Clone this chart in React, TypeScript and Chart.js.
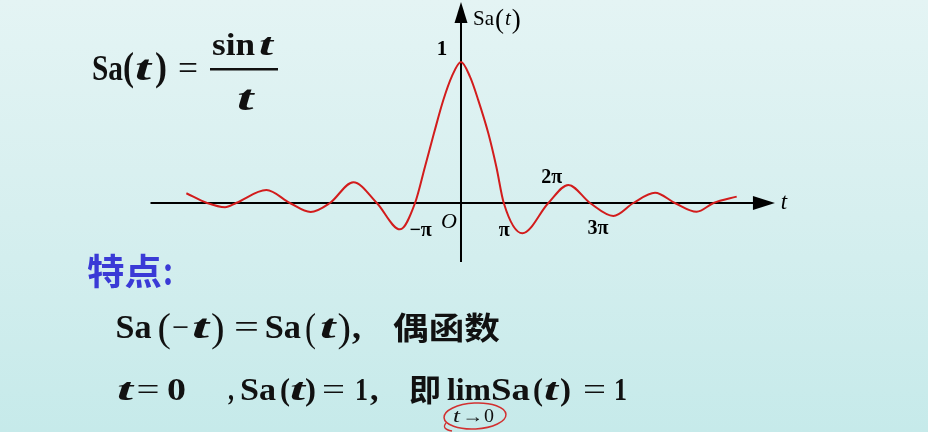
import React, { useEffect, useRef } from "react";
import { Chart, registerables } from "chart.js";

Chart.register(...registerables);

// ---- data ----
const T_VALUES = [
  -19.9, -18.4, -17.1, -16.3, -14.1, -12.4, -10.9, -9.5, -7.8, -6.1, -4.42, -3.33,
  -2.61, -1.96, -1.28, -0.67, 0, 0.65, 1.25, 1.98, 2.56, 3.1, 4.45, 6.33, 7.78, 9.35,
  11.04, 12.49, 14.06, 15.5, 17.08, 18.3, 19.98,
];
const SA_VALUES = [
  0.069, 0.0, -0.03, 0.0, 0.092, 0.0, -0.064, 0.0, 0.147, 0.0, -0.187, 0.0,
  0.257, 0.494, 0.73, 0.896, 1.0, 0.896, 0.73, 0.494, 0.257, 0.0, -0.215, 0.0, 0.128, 0.0,
  -0.092, 0.0, 0.073, 0.0, -0.062, 0.0, 0.045,
];
const PI = Math.PI;
const TICK_VALUES = [-PI, PI, 2 * PI, 3 * PI];
const TICK_LABELS = ["−π", "π", "2π", "3π"];
const PEAK_LABEL = "1";
const ORIGIN_LABEL = "O";
const X_AXIS_LABEL = "t";

// ---- layout / style ----
const W = 928;
const H = 432;
const X_MIN = -33.406;
const X_MAX = 33.841;
const Y_MIN = -1.6241;
const Y_MAX = 1.4397;
const TICK_OFFSETS = [
  [3, 28],
  [0, 28],
  [4, -25],
  [7, 26],
];
const SERIF = "'Liberation Serif', 'Times New Roman', serif";
const CJK = "'Noto Sans CJK SC', sans-serif";

const axesPlugin = {
  id: "mathAxes",
  beforeDatasetsDraw(chart: any) {
    const { ctx } = chart;
    const xs = chart.scales.x;
    const ys = chart.scales.y;
    const x0 = xs.getPixelForValue(0);
    const y0 = ys.getPixelForValue(0);
    const hStart = xs.getPixelForValue(-22.5);
    const hTip = xs.getPixelForValue(22.75);
    const vBottom = ys.getPixelForValue(-0.418);
    const vTip = ys.getPixelForValue(1.4255);
    ctx.save();
    ctx.strokeStyle = "#000";
    ctx.fillStyle = "#000";
    ctx.lineWidth = 2;
    ctx.beginPath();
    ctx.moveTo(hStart, y0);
    ctx.lineTo(hTip - 18, y0);
    ctx.moveTo(x0, vBottom);
    ctx.lineTo(x0, vTip + 18);
    ctx.stroke();
    // arrow heads
    ctx.beginPath();
    ctx.moveTo(hTip, y0);
    ctx.lineTo(hTip - 22, y0 - 7);
    ctx.lineTo(hTip - 22, y0 + 7);
    ctx.closePath();
    ctx.fill();
    ctx.beginPath();
    ctx.moveTo(x0, vTip);
    ctx.lineTo(x0 - 6.5, vTip + 21);
    ctx.lineTo(x0 + 6.5, vTip + 21);
    ctx.closePath();
    ctx.fill();

    ctx.textAlign = "center";
    ctx.textBaseline = "middle";
    // tick labels
    TICK_VALUES.forEach((t, i) => {
      const px = xs.getPixelForValue(t) + TICK_OFFSETS[i][0];
      const py = y0 + TICK_OFFSETS[i][1];
      ctx.font = `bold 20px ${SERIF}`;
      ctx.fillText(TICK_LABELS[i], px, py);
    });
    // origin
    ctx.font = `italic 22px ${SERIF}`;
    ctx.fillText(ORIGIN_LABEL, x0 - 12, y0 + 19);
    // peak label
    ctx.font = `bold 21px ${SERIF}`;
    ctx.fillText(PEAK_LABEL, x0 - 19, ys.getPixelForValue(1) - 12);
    // t at arrow
    ctx.font = `italic 23px ${SERIF}`;
    ctx.fillText(X_AXIS_LABEL, hTip + 9, y0);
    // Sa(t) at y axis top
    ctx.textAlign = "left";
    ctx.textBaseline = "alphabetic";
    const bx = x0 + 12;
    const by = 25;
    ctx.font = `21px ${SERIF}`;
    ctx.fillText("Sa", bx, by);
    let cx = bx + ctx.measureText("Sa").width + 1;
    ctx.font = `27px ${SERIF}`;
    ctx.fillText("(", cx, by + 3);
    cx += ctx.measureText("(").width;
    ctx.font = `italic 21px ${SERIF}`;
    ctx.fillText("t", cx + 1, by);
    cx += ctx.measureText("t").width + 2;
    ctx.font = `27px ${SERIF}`;
    ctx.fillText(")", cx, by + 3);
    ctx.restore();
  },
};

type Piece = {
  x: number;
  y: number;
  w?: number;
  s: number;
  t: string;
  it?: boolean;
  bold?: boolean;
  cjk?: boolean;
  fill?: string;
};

const PIECES: Piece[] = [
  // formula
  { x: 92, y: 80, w: 31, s: 36, t: "Sa" },
  { x: 123, y: 80, w: 11, s: 39, t: "(" },
  { x: 135, y: 80, w: 16, s: 36, t: "t", it: true },
  { x: 155, y: 80, w: 12, s: 39, t: ")" },
  { x: 178, y: 80, w: 20, s: 36, t: "=", bold: false },
  { x: 212, y: 55, w: 43, s: 32, t: "sin" },
  { x: 259, y: 55, w: 14, s: 32, t: "t", it: true },
  { x: 237, y: 110, w: 16.5, s: 35, t: "t", it: true },
  // 特点
  { x: 87, y: 285, w: 75, s: 36, t: "特点", cjk: true, fill: "#3a3ad6" },
  { x: 163, y: 285, w: 10, s: 36, t: ":", cjk: true, fill: "#3a3ad6" },
  // line 1
  { x: 115.5, y: 338, w: 36, s: 33, t: "Sa" },
  { x: 157.6, y: 341, w: 13.4, s: 41, t: "(", bold: false },
  { x: 172, y: 338, w: 17, s: 33, t: "−", bold: false },
  { x: 192, y: 338, w: 17, s: 33, t: "t", it: true },
  { x: 211, y: 341, w: 13.6, s: 41, t: ")", bold: false },
  { x: 234, y: 338, w: 25, s: 33, t: "=", bold: false },
  { x: 264.7, y: 338, w: 36.3, s: 33, t: "Sa" },
  { x: 305, y: 341, w: 11, s: 41, t: "(", bold: false },
  { x: 320, y: 338, w: 15.5, s: 33, t: "t", it: true },
  { x: 337.5, y: 341, w: 13.5, s: 41, t: ")", bold: false },
  { x: 352, y: 338, s: 36, t: "," },
  { x: 393, y: 339, w: 107, s: 31, t: "偶函数", cjk: true },
  // line 2
  { x: 117, y: 400, w: 16, s: 31, t: "t", it: true },
  { x: 136.5, y: 400, w: 23, s: 31, t: "=", bold: false },
  { x: 167, y: 400, w: 19, s: 31, t: "0" },
  { x: 228, y: 400, w: 6, s: 31, t: "," },
  { x: 240, y: 400, w: 36, s: 31, t: "Sa" },
  { x: 280, y: 400, w: 10, s: 31, t: "(" },
  { x: 290, y: 400, w: 15, s: 31, t: "t", it: true },
  { x: 305, y: 400, w: 11, s: 31, t: ")" },
  { x: 322, y: 400, w: 23, s: 31, t: "=", bold: false },
  { x: 355, y: 400, w: 13, s: 31, t: "1" },
  { x: 370, y: 400, s: 34, t: "," },
  { x: 409, y: 401, w: 32, s: 31, t: "即", cjk: true },
  { x: 447, y: 400, w: 44, s: 31, t: "lim" },
  { x: 491, y: 400, w: 39, s: 31, t: "Sa" },
  { x: 533, y: 400, w: 10, s: 31, t: "(" },
  { x: 544, y: 400, w: 14, s: 31, t: "t", it: true },
  { x: 560, y: 400, w: 11, s: 31, t: ")" },
  { x: 583, y: 400, w: 23, s: 31, t: "=", bold: false },
  { x: 614, y: 400, w: 13, s: 31, t: "1" },
  // t -> 0
  { x: 453, y: 422, w: 7, s: 18, t: "t", it: true, bold: false },
  { x: 462, y: 422, w: 21, s: 18, t: "→", bold: false },
  { x: 484, y: 422, w: 10, s: 18, t: "0", bold: false },
];

export default function App() {
  const ref = useRef<HTMLCanvasElement>(null);

  useEffect(() => {
    if (!ref.current) return;
    const chart = new Chart(ref.current, {
      type: "line",
      data: {
        datasets: [
          {
            data: T_VALUES.map((t, i) => ({ x: t, y: SA_VALUES[i] })),
            borderColor: "#d21c1c",
            borderWidth: 2,
            pointRadius: 0,
            cubicInterpolationMode: "monotone",
            fill: false,
          },
        ],
      },
      options: {
        animation: false,
        responsive: false,
        devicePixelRatio: 1,
        layout: { padding: 0 },
        plugins: { legend: { display: false }, tooltip: { enabled: false } },
        scales: {
          x: { type: "linear", min: X_MIN, max: X_MAX, display: false },
          y: { type: "linear", min: Y_MIN, max: Y_MAX, display: false },
        },
      },
      plugins: [axesPlugin],
    } as any);
    return () => chart.destroy();
  }, []);

  return (
    <div
      style={{
        position: "absolute",
        left: 0,
        top: 0,
        width: W,
        height: H,
        overflow: "hidden",
        background: "linear-gradient(180deg, #e4f4f4 0%, #d6efef 50%, #c6eaea 100%)",
      }}
    >
      <canvas ref={ref} width={W} height={H} style={{ position: "absolute", left: 0, top: 0 }} />
      <svg
        width={W}
        height={H}
        style={{ position: "absolute", left: 0, top: 0, pointerEvents: "none" }}
      >
        {PIECES.map((p, i) => (
          <text
            key={i}
            x={p.x}
            y={p.y}
            fontSize={p.s}
            fontFamily={p.cjk ? CJK : SERIF}
            fontStyle={p.it ? "italic" : "normal"}
            fontWeight={p.bold === false ? "normal" : "bold"}
            fill={p.fill || "#111"}
            {...(p.w ? { textLength: p.w, lengthAdjust: "spacingAndGlyphs" } : {})}
          >
            {p.t}
          </text>
        ))}
        <line x1={210} y1={69.3} x2={278} y2={69.3} stroke="#111" strokeWidth={2.5} />
        <ellipse
          cx={475}
          cy={416}
          rx={31}
          ry={13}
          fill="none"
          stroke="#d23030"
          strokeWidth={1.5}
          transform="rotate(-3 475 416)"
        />
        <path d="M 446 423 Q 441 429 452 431" fill="none" stroke="#d23030" strokeWidth={1.3} />
      </svg>
    </div>
  );
}
